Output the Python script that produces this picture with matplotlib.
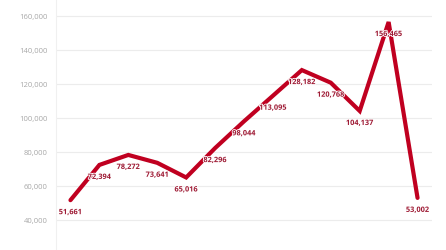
import matplotlib.pyplot as plt
import matplotlib.patheffects as pe
from matplotlib.ticker import FuncFormatter

# values, one per period
periods = list(range(13))
values = [51661, 72394, 78272, 73641, 65016, 82296, 98044,
          113095, 128182, 120768, 104137, 156465, 53002]
y_ticks = [40000, 60000, 80000, 100000, 120000, 140000, 160000]

plt.rcParams['font.family'] = ['Open Sans', 'DejaVu Sans']

fig = plt.figure(figsize=(4.46, 2.5), dpi=100)
ax = fig.add_axes([56 / 446, -4 / 250, 376 / 446, 255 / 250])

ax.plot(periods, values, color='#c00020', linewidth=3.0,
        solid_joinstyle='miter', solid_capstyle='round', zorder=3)

for x, v in zip(periods, values):
    ax.annotate(f"{v:,}", (x, v), xytext=(0, -9), textcoords='offset points',
                ha='center', va='center', fontsize=5.3, fontweight='bold',
                color='#9e1a34', zorder=4,
                path_effects=[pe.withStroke(linewidth=1.2, foreground='white')])

ax.set_xlim(-0.5, 12.5)
ax.set_ylim(20000, 170000)
ax.set_yticks(y_ticks)
ax.yaxis.set_major_formatter(FuncFormatter(lambda v, _: f"{int(v):,}"))
ax.tick_params(axis='y', length=0, labelsize=5.5, labelcolor='#a8a8a8', pad=6)
ax.set_xticks([])
ax.grid(axis='y', color='#ececec', linewidth=0.8)
ax.set_axisbelow(True)
for side in ['top', 'right', 'bottom']:
    ax.spines[side].set_visible(False)
ax.spines['left'].set_color('#f0f0f0')
ax.spines['left'].set_linewidth(0.8)

fig.savefig('out.png', dpi=100, facecolor='white')
